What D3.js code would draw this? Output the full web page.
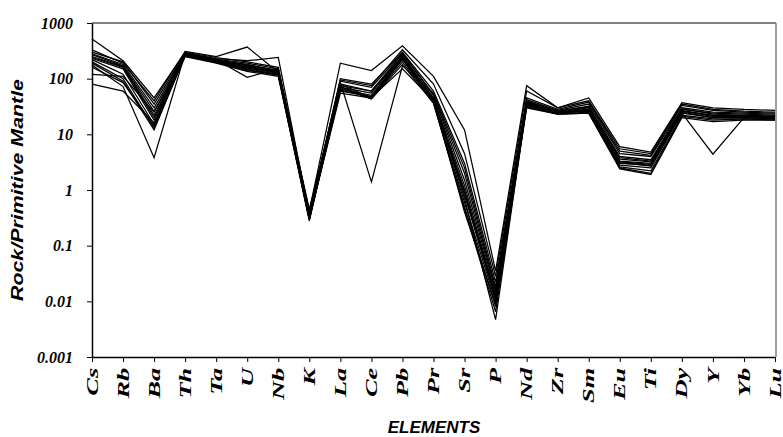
<!DOCTYPE html>
<html>
<head>
<meta charset="utf-8">
<script src="https://cdn.jsdelivr.net/npm/d3@7"></script>
<style>
  body { margin: 0; background: #fff; }
  .axis path, .axis line { stroke: #000; }
  .axis text { font-family: "Liberation Serif", "Times New Roman", serif; font-weight: bold; font-style: italic; fill: #000; }
  .title { font-family: "Liberation Sans", Arial, sans-serif; font-weight: bold; font-style: italic; fill: #000; }
  .sample { fill: none; stroke: #000; stroke-width: 1.25; stroke-linejoin: miter; }
</style>
</head>
<body>
<svg id="chart" width="783" height="437"></svg>
<script>
// elements in spider diagram order
var elements = ["Cs","Rb","Ba","Th","Ta","U","Nb","K","La","Ce","Pb","Pr","Sr","P","Nd","Zr","Sm","Eu","Ti","Dy","Y","Yb","Lu"];
var yTicks = [0.001, 0.01, 0.1, 1, 10, 100, 1000];
var yTickLabels = ["0.001","0.01","0.1","1","10","100","1000"];

// rock / primitive mantle, one array per sample
var s01 = [515, 210, 45, 300, 240, 200, 160, 0.42, 190, 140, 390, 110, 12, 0.035, 75, 30, 45, 6.0, 4.8, 37, 30, 28, 27];
var s02 = [330, 190, 40, 310, 250, 370, 130, 0.40, 95, 75, 330, 80, 4.5, 0.028, 60, 30, 40, 5.5, 4.5, 35, 28, 26, 25];
var s03 = [300, 200, 35, 290, 230, 210, 240, 0.35, 100, 80, 300, 60, 3.0, 0.022, 45, 28, 38, 5.0, 4.2, 33, 27, 25, 24];
var s04 = [280, 180, 30, 280, 220, 106, 150, 0.38, 85, 1.4, 170, 55, 2.5, 0.018, 42, 27, 35, 4.5, 4.0, 30, 25, 24, 23];
var s05 = [270, 170, 26, 270, 215, 180, 140, 0.30, 75, 60, 280, 50, 1.5, 0.015, 40, 26, 32, 4.0, 3.5, 28, 24, 23, 22];
var s06 = [250, 165, 22, 265, 210, 170, 135, 0.45, 70, 55, 260, 45, 1.2, 0.013, 38, 25, 30, 3.6, 3.2, 27, 22, 22, 21];
var s07 = [240, 160, 20, 260, 205, 160, 130, 0.33, 65, 50, 250, 42, 1.0, 0.012, 36, 25, 28, 3.3, 3.0, 26, 21, 21, 20];
var s08 = [230, 150, 18, 255, 200, 155, 125, 0.36, 60, 48, 240, 40, 0.8, 0.011, 35, 24, 27, 3.0, 2.8, 25, 20, 21, 20];
var s09 = [220, 120, 15, 275, 210, 150, 120, 0.28, 80, 45, 220, 38, 0.6, 0.010, 33, 24, 26, 2.8, 2.5, 24, 4.4, 20, 19];
var s10 = [200, 100, 13, 265, 200, 145, 115, 0.32, 72, 44, 200, 37, 0.5, 0.008, 32, 23, 25, 2.6, 2.2, 22, 19, 19, 19];
var s11 = [190, 90, 12, 260, 195, 140, 120, 0.30, 68, 43, 180, 36, 0.45, 0.0065, 30, 23, 24, 2.5, 2.0, 21, 18, 19, 18];
var s12 = [175, 72, 3.8, 285, 225, 190, 150, 0.34, 80, 60, 250, 45, 0.7, 0.0047, 34, 24, 27, 3.2, 2.9, 24, 20, 20, 19];
var s13 = [160, 85, 14, 250, 190, 135, 110, 0.29, 62, 46, 150, 40, 0.4, 0.009, 31, 23, 24, 2.4, 1.9, 20, 17, 18, 18];
var s14 = [120, 110, 25, 270, 215, 175, 140, 0.40, 90, 70, 290, 52, 2.0, 0.016, 39, 26, 31, 3.8, 3.3, 29, 23, 22, 21];
var s15 = [80, 60, 16, 255, 200, 165, 130, 0.31, 55, 45, 230, 41, 0.9, 0.012, 37, 25, 28, 3.1, 2.7, 26, 22, 21, 20];
var samples = [s01, s02, s03, s04, s05, s06, s07, s08, s09, s10, s11, s12, s13, s14, s15];

var svg = d3.select("#chart"),
    margin = {top: 23, right: 8, bottom: 80, left: 92},
    width = +svg.attr("width") - margin.left - margin.right,
    height = +svg.attr("height") - margin.top - margin.bottom;

var x = d3.scalePoint().domain(elements).range([0, width]);
var y = d3.scaleLog().domain([0.001, 1000]).range([height, 0]);

var g = svg.append("g")
    .attr("transform", "translate(" + margin.left + "," + margin.top + ")");

// frame top and right (grey)
g.append("line").attr("x1", 0).attr("x2", width + 1).attr("y1", 0).attr("y2", 0)
    .attr("stroke", "#808080").attr("stroke-width", 2);
g.append("line").attr("x1", width + 1).attr("x2", width + 1).attr("y1", 0).attr("y2", height)
    .attr("stroke", "#808080").attr("stroke-width", 1.5);

var line = d3.line()
    .x(function(d, i) { return x(elements[i]); })
    .y(function(d) { return y(d); });

g.selectAll(".sample")
    .data(samples)
  .enter().append("path")
    .attr("class", "sample")
    .attr("d", line);

g.append("g")
    .attr("class", "y axis")
    .call(d3.axisLeft(y).tickValues(yTicks)
      .tickFormat(function(d, i) { return yTickLabels[i]; })
      .tickSize(5).tickSizeOuter(0).tickPadding(14))
    .call(function(a) {
      a.select(".domain").attr("stroke-width", 1.5);
      a.selectAll("text").style("font-size", "16px");
    });

// element labels: rotated, stretched along their length like the original
g.append("g")
    .attr("class", "x axis")
    .attr("transform", "translate(0," + height + ")")
    .call(d3.axisBottom(x).tickSize(5).tickSizeOuter(0))
    .call(function(a) {
      a.select(".domain").attr("stroke-width", 1.5);
      a.selectAll("text")
        .style("font-size", "17px")
        .attr("text-anchor", "end")
        .attr("transform", "rotate(-90) scale(1.55,1)")
        .attr("x", -7)
        .attr("y", 0)
        .attr("dy", "0.3em");
    });

svg.append("text")
    .attr("class", "title")
    .attr("transform", "translate(23,190) rotate(-90)")
    .attr("text-anchor", "middle")
    .attr("textLength", 222)
    .attr("lengthAdjust", "spacingAndGlyphs")
    .style("font-size", "17px")
    .text("Rock/Primitive Mantle");

svg.append("text")
    .attr("class", "title")
    .attr("x", 434)
    .attr("y", 433)
    .attr("text-anchor", "middle")
    .style("font-size", "17px")
    .text("ELEMENTS");
</script>
</body>
</html>
